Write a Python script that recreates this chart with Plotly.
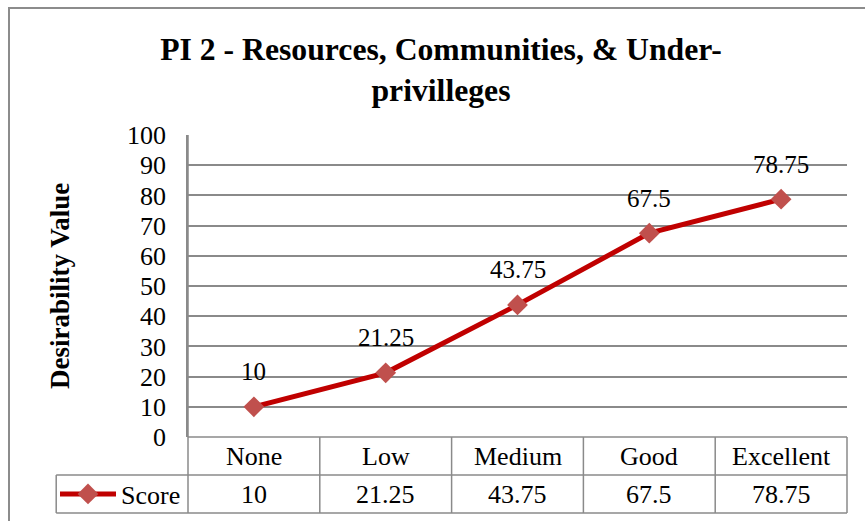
import plotly.graph_objects as go

# Chart data
categories = ["None", "Low", "Medium", "Good", "Excellent"]
scores = [10, 21.25, 43.75, 67.5, 78.75]
y_ticks = [0, 10, 20, 30, 40, 50, 60, 70, 80, 90, 100]
series_name = "Score"

FONT = "Liberation Serif, Times New Roman, serif"
GRID = "#8a8a8a"
LINE_RED = "#C00000"
MARK_RED = "#C0504D"

W, H = 865, 521
ML, MR, MT, MB = 188, 18, 135, 84
PW, PH = W - ML - MR, H - MT - MB

n = len(categories)
x_idx = list(range(n))
x_lo, x_hi = -0.5, n - 0.5


def xp(v):
    """Category-axis value -> paper x."""
    return (v - x_lo) / (x_hi - x_lo)


row_h = 38 / PH  # height of one data-table row in paper units
row1_mid, row2_mid = -row_h / 2, -1.5 * row_h
tbl_bottom = -2 * row_h
legend_left = xp(x_lo - 1)

fig = go.Figure()
fig.add_trace(go.Scatter(
    x=x_idx, y=scores, name=series_name, mode="lines+markers",
    line=dict(color=LINE_RED, width=5),
    marker=dict(symbol="diamond", size=16, color=MARK_RED,
                line=dict(width=0)),
    showlegend=True,
))

shapes = []
line_style = dict(color=GRID, width=1.5)
# outer chart frame
shapes.append(dict(type="rect", xref="paper", yref="paper",
                   x0=(9 - ML) / PW, x1=1.1, y0=-0.4, y1=1 + (MT - 8) / PH,
                   line=dict(color="#8c8c8c", width=2), layer="below"))
# data table horizontal rules
shapes.append(dict(type="line", xref="paper", yref="paper", x0=0, x1=1,
                   y0=0, y1=0, line=line_style))
for yv in (-row_h, tbl_bottom):
    shapes.append(dict(type="line", xref="paper", yref="paper",
                       x0=legend_left, x1=1, y0=yv, y1=yv, line=line_style))
# data table column rules
for k in range(n + 1):
    xv = xp(k - 0.5)
    shapes.append(dict(type="line", xref="paper", yref="paper",
                       x0=xv, x1=xv, y0=tbl_bottom,
                       y1=(1 if k == 0 else 0), line=line_style))
shapes.append(dict(type="line", xref="paper", yref="paper",
                   x0=legend_left, x1=legend_left, y0=tbl_bottom, y1=-row_h,
                   line=line_style))

annotations = []
# point labels
for i, v in zip(x_idx, scores):
    annotations.append(dict(x=i, y=v, xref="x", yref="y", text=f"{v:g}",
                            showarrow=False, yshift=35,
                            font=dict(family=FONT, size=25, color="black")))
# table cells
for i, (c, v) in enumerate(zip(categories, scores)):
    annotations.append(dict(x=i, y=row1_mid, xref="x", yref="paper", text=c,
                            showarrow=False, yanchor="middle",
                            font=dict(family=FONT, size=26, color="black")))
    annotations.append(dict(x=i, y=row2_mid, xref="x", yref="paper",
                            text=f"{v:g}", showarrow=False, yanchor="middle",
                            font=dict(family=FONT, size=26, color="black")))
# y axis title
annotations.append(dict(x=(60 - ML) / PW, y=0.5, xref="paper", yref="paper",
                        text="<b>Desirability Value</b>", textangle=-90,
                        showarrow=False, xanchor="center", yanchor="middle",
                        font=dict(family=FONT, size=27, color="black")))

fig.update_layout(
    width=W, height=H,
    margin=dict(l=ML, r=MR, t=MT, b=MB, pad=0, autoexpand=False),
    paper_bgcolor="white", plot_bgcolor="white",
    title=dict(text="<b>PI 2 - Resources, Communities, & Under-<br>privilleges</b>",
               x=441 / W, xanchor="center", xref="container",
               y=1 - 60 / H, yanchor="top", yref="container",
               font=dict(family=FONT, size=31.7, color="black")),
    xaxis=dict(range=[x_lo, x_hi], showticklabels=False, showgrid=False,
               zeroline=False, showline=False, fixedrange=True),
    yaxis=dict(range=[0, 100], tickvals=y_ticks, showgrid=True,
               gridcolor=GRID, gridwidth=1.5, zeroline=False,
               showline=True, linecolor=GRID, linewidth=1.5,
               ticks="", ticklabelstandoff=15,
               tickfont=dict(family=FONT, size=26, color="black")),
    legend=dict(x=(55 - ML) / PW, y=row2_mid, xanchor="left",
                yanchor="middle", bgcolor="rgba(0,0,0,0)",
                font=dict(family=FONT, size=26, color="black"),
                itemwidth=56, tracegroupgap=0),
    shapes=shapes, annotations=annotations,
    showlegend=True,
)

fig.write_html("out.html")
